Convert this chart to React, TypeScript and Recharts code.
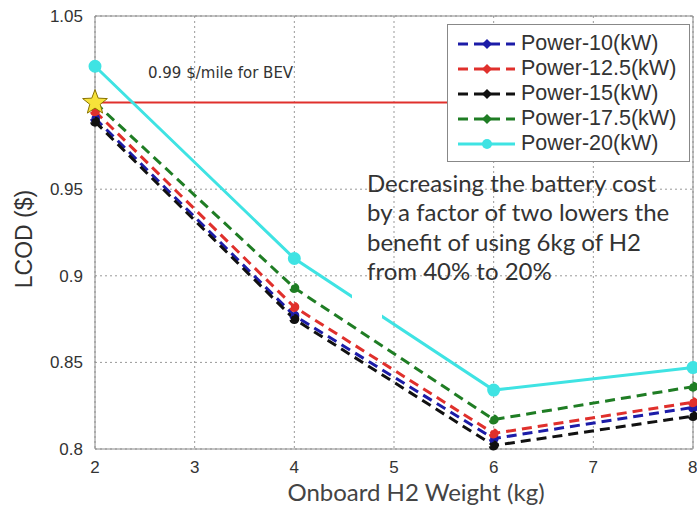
import React from 'react';
import {
  LineChart, Line, XAxis, YAxis, CartesianGrid, ReferenceLine, Scatter
} from 'recharts';

// Onboard H2 weight (kg)
const weights = [2, 4, 6, 8];

// LCOD ($) for each fuel cell power
const power10 = [0.991, 0.877, 0.806, 0.824];
const power12_5 = [0.995, 0.882, 0.809, 0.827];
const power15 = [0.989, 0.875, 0.802, 0.819];
const power17_5 = [1.0, 0.893, 0.817, 0.836];
const power20 = [1.021, 0.91, 0.834, 0.847];

const xTicks = [2, 3, 4, 5, 6, 7, 8];
const yTicks = [0.8, 0.85, 0.9, 0.95, 1.05];

const bevCost = 1.0;
const bevLineEnd = 5.55;
const bevLabel = '0.99 $/mile for BEV';
const starPoint = [{ w: 2, star: 1.0 }];

const noteLines = [
  'Decreasing the battery cost',
  'by a factor of two lowers the',
  'benefit of using 6kg of H2',
  'from 40% to 20%',
];

const series = [
  { key: 'p10', name: 'Power-10(kW)', values: power10, color: '#1c1ca8', dashed: true },
  { key: 'p12_5', name: 'Power-12.5(kW)', values: power12_5, color: '#e0302c', dashed: true },
  { key: 'p15', name: 'Power-15(kW)', values: power15, color: '#111111', dashed: true },
  { key: 'p17_5', name: 'Power-17.5(kW)', values: power17_5, color: '#1f7d24', dashed: true },
  { key: 'p20', name: 'Power-20(kW)', values: power20, color: '#3fe3e3', dashed: false },
];

const data = weights.map((w, i) => {
  const row: any = { w };
  series.forEach(s => { row[s.key] = s.values[i]; });
  return row;
});

const tickStyle = { fontFamily: '"Liberation Sans", Arial, sans-serif', fontSize: 17, fill: '#333' };

const LegendBox = () => (
  <div style={{
    position: 'absolute', left: 447, top: 24, width: 243, height: 138,
    background: '#fff', border: '1px solid #888', boxSizing: 'border-box',
    padding: '6px 0 0 9px'
  }}>
    {series.map(s => (
      <div key={s.key} style={{ display: 'flex', alignItems: 'center', height: 25 }}>
        <svg width={60} height={14} style={{ flex: 'none' }}>
          <line x1={1} y1={7} x2={58} y2={7} stroke={s.color} strokeWidth={3}
            strokeDasharray={s.dashed ? '10 6' : undefined} />
          {s.dashed
            ? <path d="M30 2 L35 7 L30 12 L25 7 Z" fill={s.color} />
            : <circle cx={30} cy={7} r={5} fill={s.color} />}
        </svg>
        <span style={{
          marginLeft: 4, fontFamily: '"Liberation Sans", Arial, sans-serif',
          fontSize: 21.5, color: '#333', whiteSpace: 'nowrap'
        }}>{s.name}</span>
      </div>
    ))}
  </div>
);

const StarShape = (props: any) => {
  const { cx, cy } = props;
  const pts: string[] = [];
  for (let i = 0; i < 10; i++) {
    const r = i % 2 === 0 ? 13 : 5.5;
    const a = -Math.PI / 2 + (i * Math.PI) / 5;
    pts.push(`${cx + r * Math.cos(a)},${cy + r * Math.sin(a)}`);
  }
  return <polygon points={pts.join(' ')} fill="#f7e23a" stroke="#8a7400" strokeWidth={1} />;
};

const App = () => {
  return (
    <div style={{ position: 'absolute', left: 0, top: 0, width: 697, height: 506, background: '#fff' }}>
      <LineChart width={697} height={506} data={data}
        margin={{ top: 16, right: 4, bottom: 27, left: 35 }}>
        <CartesianGrid stroke="#999" strokeDasharray="2 3" />
        <XAxis dataKey="w" type="number" domain={[2, 8]} ticks={xTicks} height={30}
          tickLine={false} tickMargin={6} stroke="#888" tick={tickStyle} />
        <YAxis type="number" domain={[0.8, 1.05]} ticks={yTicks} width={60}
          tickLine={false} tickMargin={6} stroke="#888" tick={tickStyle} />
        <ReferenceLine y={1.05} stroke="#888" />
        <ReferenceLine x={8} stroke="#888" />
        <ReferenceLine segment={[{ x: 2, y: bevCost }, { x: bevLineEnd, y: bevCost }]}
          stroke="#e0302c" strokeWidth={2} />
        {series.map(s => (
          <Line
            key={s.key}
            dataKey={s.key}
            type="linear"
            stroke={s.color}
            strokeWidth={3}
            strokeDasharray={s.dashed ? '10 6' : undefined}
            dot={{ r: s.dashed ? 3.5 : 5, fill: s.color, stroke: s.color }}
            isAnimationActive={false}
          />
        ))}
        <Scatter data={starPoint} dataKey="star" shape={StarShape} isAnimationActive={false} />
      </LineChart>

      {/* white patch where the note's text box hides the cyan line */}
      <div style={{ position: 'absolute', left: 352, top: 288, width: 30, height: 30, background: '#fff' }} />

      <div style={{
        position: 'absolute', left: 148, top: 64, fontFamily: '"DejaVu Sans", Verdana, sans-serif',
        fontSize: 15, color: '#333', whiteSpace: 'nowrap'
      }}>{bevLabel}</div>

      <div style={{
        position: 'absolute', left: 367, top: 168, fontFamily: 'Lato, "Open Sans", sans-serif',
        fontSize: 24, lineHeight: '29.3px', color: '#333', whiteSpace: 'nowrap'
      }}>
        {noteLines.map(l => <div key={l}>{l}</div>)}
      </div>

      <div style={{
        position: 'absolute', left: 24, top: 239, transform: 'translate(-50%, -50%) rotate(-90deg)',
        fontFamily: '"Liberation Sans", Arial, sans-serif', fontSize: 23, color: '#333', whiteSpace: 'nowrap'
      }}>LCOD ($)</div>

      <div style={{
        position: 'absolute', left: 416, top: 491, transform: 'translate(-50%, -50%)',
        fontFamily: 'Lato, "Open Sans", sans-serif', fontSize: 24, color: '#444', whiteSpace: 'nowrap'
      }}>Onboard H2 Weight (kg)</div>

      <LegendBox />
    </div>
  );
};

export default App;
